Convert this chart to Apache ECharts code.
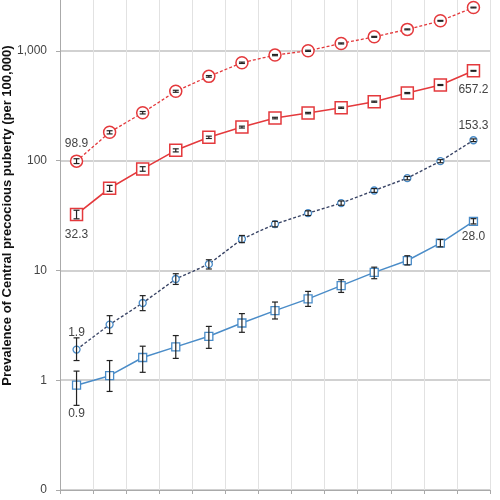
<!DOCTYPE html>
<html><head><meta charset="utf-8">
<script src="https://cdn.jsdelivr.net/npm/echarts@6/dist/echarts.min.js"></script>
<style>html,body{margin:0;padding:0;background:#fff}#c{width:500px;height:500px}</style>
</head><body><div id="c"></div>
<script>
const categories = ['2008','2009','2010','2011','2012','2013','2014','2015','2016','2017','2018','2019','2020'];

const redCircle     = [98.9, 181, 273, 428, 585, 778, 914, 1000, 1167, 1340, 1567, 1875, 2478];
const redCircleLow  = [94, 175, 266, 419, 575, 767, 902, 988, 1154, 1326, 1552, 1858, 2458];
const redCircleHigh = [104, 187, 280, 437, 595, 789, 926, 1012, 1180, 1354, 1582, 1892, 2498];

const redSquare     = [32.3, 56, 84, 124, 163, 202, 244, 271, 303, 344, 412, 488, 657.2];
const redSquareLow  = [29.5, 52.5, 80, 120, 159, 198, 240, 267, 299, 340, 407, 483, 651];
const redSquareHigh = [35.3, 59.5, 88, 128, 167, 206, 248, 275, 307, 348, 417, 493, 663];

const blueCircle     = [1.9, 3.21, 5.05, 8.35, 11.4, 19.3, 26.4, 33.2, 41, 53.4, 69.2, 98.8, 153.3];
const blueCircleLow  = [1.51, 2.66, 4.3, 7.45, 10.3, 17.9, 24.9, 31.6, 39.2, 51.3, 66.8, 95.6, 149];
const blueCircleHigh = [2.43, 3.87, 5.89, 9.33, 12.5, 20.8, 28, 34.9, 42.9, 55.6, 71.7, 102, 157.6];

const blueSquare     = [0.9, 1.1, 1.61, 2.01, 2.51, 3.32, 4.3, 5.5, 7.26, 9.59, 12.3, 17.7, 28.0];
const blueSquareLow  = [0.59, 0.79, 1.18, 1.58, 1.95, 2.73, 3.61, 4.70, 6.3, 8.4, 11.2, 16.4, 26.5];
const blueSquareHigh = [1.21, 1.51, 2.04, 2.55, 3.09, 4.04, 5.15, 6.44, 8.23, 10.7, 13.6, 19.1, 29.6];

const RED = '#e4393c', BLUE = '#4a8cc8', NAVY = '#3a4566';
const FONT = 'Helvetica, Arial, "Liberation Sans", sans-serif';

function withLabels(values, labelSpec) {
  return values.map((v, i) => {
    const spec = labelSpec[i];
    if (!spec) return v;
    return { value: v, label: { show: true, position: spec.pos, distance: spec.dist,
      formatter: spec.text, color: '#444', fontSize: 12, fontFamily: FONT } };
  });
}
function errData(low, high) { return low.map((l, i) => [i, l, high[i]]); }
function errSeries(low, high) {
  return {
    type: 'custom', z: 10, silent: true,
    data: errData(low, high),
    encode: { x: 0, y: [1, 2] },
    renderItem: function (params, api) {
      const x = api.value(0);
      const p1 = api.coord([x, api.value(1)]);
      const p2 = api.coord([x, api.value(2)]);
      const w = 3;
      const st = { stroke: '#222', lineWidth: 1.2 };
      return { type: 'group', children: [
        { type: 'line', shape: { x1: p1[0], y1: p1[1], x2: p2[0], y2: p2[1] }, style: st },
        { type: 'line', shape: { x1: p1[0] - w, y1: p1[1], x2: p1[0] + w, y2: p1[1] }, style: st },
        { type: 'line', shape: { x1: p2[0] - w, y1: p2[1], x2: p2[0] + w, y2: p2[1] }, style: st }
      ]};
    }
  };
}

const last = categories.length - 1;
const chart = echarts.init(document.getElementById('c'), null, { renderer: 'canvas' });
chart.setOption({
  animation: false,
  grid: { left: 60, right: 10, top: -59, bottom: 10, containLabel: false, outerBoundsMode: 'none' },
  xAxis: {
    type: 'category', data: categories, boundaryGap: true,
    axisLine: { lineStyle: { color: '#aaa', width: 1 } },
    axisTick: { show: true, interval: 0, length: 4, lineStyle: { color: '#aaa' } },
    axisLabel: { show: false, interval: 0 },
    splitLine: { show: true, interval: 0, lineStyle: { color: '#e2e2e2', width: 1 } }
  },
  yAxis: {
    type: 'log', logBase: 10, min: 0.1, max: 10000,
    name: 'Prevalence of Central precocious puberty (per 100,000)',
    nameLocation: 'middle', nameGap: 46, nameMoveOverlap: false,
    nameTextStyle: { fontFamily: FONT, fontWeight: 'bold', fontSize: 13, color: '#111' },
    axisLine: { show: true, lineStyle: { color: '#aaa' } },
    axisTick: { show: true, length: 4, lineStyle: { color: '#aaa' } },
    axisLabel: { fontFamily: FONT, fontSize: 12, color: '#444', margin: 13,
      formatter: v => v < 1 ? '0' : Math.round(v).toLocaleString('en-US') },
    splitLine: { show: true, lineStyle: { color: '#c2c2c2', width: 1.5 } }
  },
  series: [
    { type: 'line', name: 'redCircle', z: 3,
      data: withLabels(redCircle, { 0: { pos: 'top', dist: 5, text: '98.9' } }),
      symbol: 'circle', symbolSize: 12,
      lineStyle: { color: RED, width: 1.3, type: [3, 2] },
      itemStyle: { color: '#fff', borderColor: RED, borderWidth: 1.5 } },
    { type: 'line', name: 'redSquare', z: 3,
      data: withLabels(redSquare, { 0: { pos: 'bottom', dist: 7, text: '32.3' }, [last]: { pos: 'bottom', dist: 6, text: '657.2' } }),
      symbol: 'rect', symbolSize: 12,
      lineStyle: { color: RED, width: 1.6 },
      itemStyle: { color: '#fff', borderColor: RED, borderWidth: 1.5 } },
    { type: 'line', name: 'blueCircle', z: 3,
      data: withLabels(blueCircle, { 0: { pos: 'top', dist: 7, text: '1.9' }, [last]: { pos: 'top', dist: 4, text: '153.3' } }),
      symbol: 'circle', symbolSize: 7,
      lineStyle: { color: NAVY, width: 1.4, type: [3, 2] },
      itemStyle: { color: '#fff', borderColor: BLUE, borderWidth: 1.3 } },
    { type: 'line', name: 'blueSquare', z: 3,
      data: withLabels(blueSquare, { 0: { pos: 'bottom', dist: 18, text: '0.9' }, [last]: { pos: 'bottom', dist: 5, text: '28.0' } }),
      symbol: 'rect', symbolSize: 8,
      lineStyle: { color: BLUE, width: 1.5 },
      itemStyle: { color: '#fff', borderColor: BLUE, borderWidth: 1.3 } },
    errSeries(redCircleLow, redCircleHigh),
    errSeries(redSquareLow, redSquareHigh),
    errSeries(blueCircleLow, blueCircleHigh),
    errSeries(blueSquareLow, blueSquareHigh)
  ]
});
</script></body></html>
